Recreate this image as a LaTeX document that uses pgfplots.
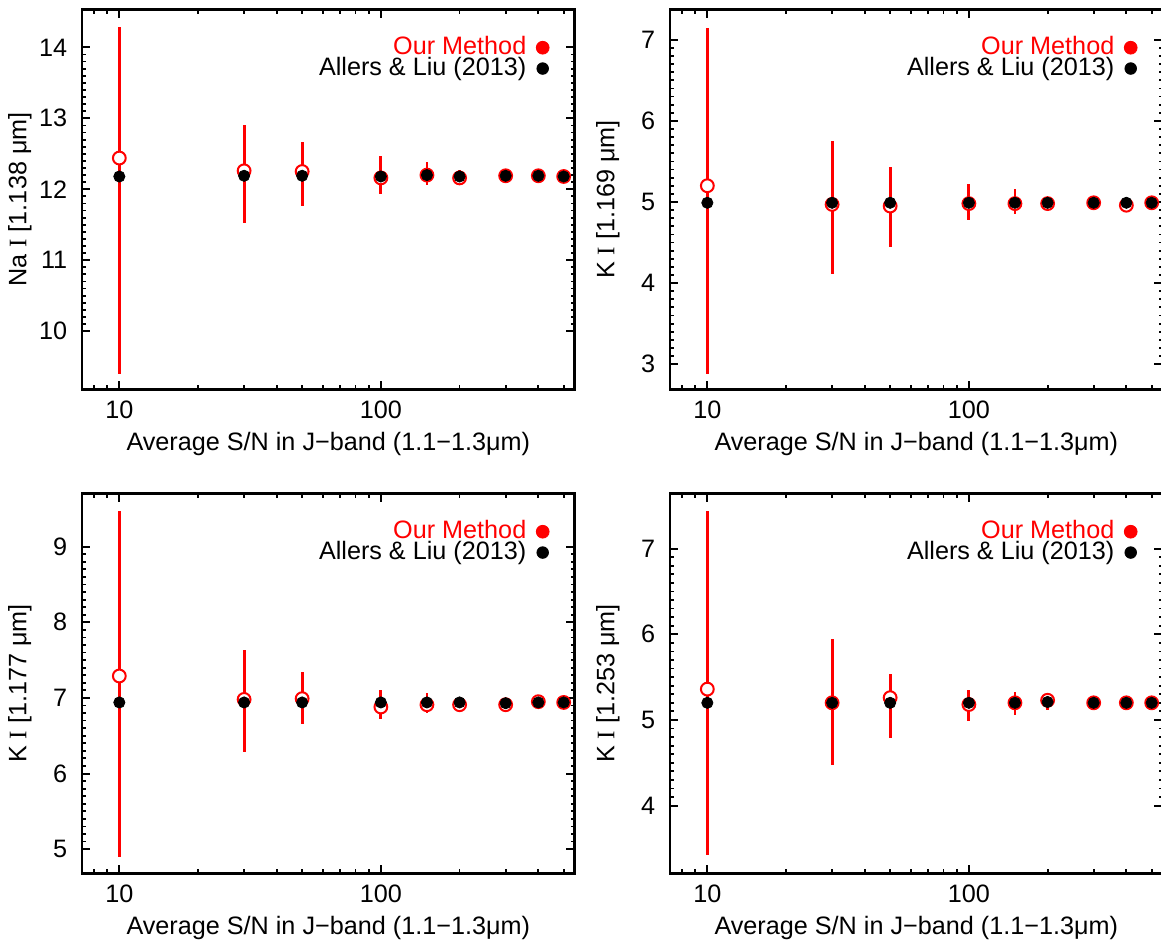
\documentclass[border=0pt]{standalone}
\usepackage{pgfplots}
\pgfplotsset{compat=1.18}
\usepackage{fontspec}
\setmainfont{Liberation Sans}
\newfontfamily\serifI{Liberation Serif}
\newcommand{\fs}{\fontsize{12.6}{15}\selectfont}

\pgfplotstableread{
x y ep em
10 12.44 1.85 3.05
30 12.26 0.64 0.73
50 12.25 0.41 0.49
100 12.16 0.31 0.23
150 12.20 0.18 0.14
200 12.16 0.11 0.10
300 12.19 0.04 0.04
400 12.19 0.03 0.03
500 12.18 0.03 0.03
}\oursA
\pgfplotstableread{
x y
10 12.18
30 12.19
50 12.19
100 12.18
150 12.20
200 12.18
300 12.19
400 12.19
500 12.18
}\alA
\pgfplotstableread{
x y ep em
10 5.20 1.94 2.32
30 4.97 0.78 0.86
50 4.95 0.48 0.50
100 4.98 0.24 0.20
150 4.98 0.18 0.13
200 4.98 0.07 0.06
300 4.99 0.03 0.03
400 4.96 0.03 0.03
500 4.99 0.03 0.03
}\oursB
\pgfplotstableread{
x y
10 4.99
30 4.99
50 4.99
100 4.99
150 4.99
200 4.99
300 4.99
400 4.99
500 4.99
}\alB
\pgfplotstableread{
x y ep em
10 7.29 2.18 2.39
30 6.98 0.65 0.69
50 6.99 0.35 0.34
100 6.88 0.22 0.16
150 6.91 0.16 0.11
200 6.91 0.05 0.05
300 6.91 0.03 0.03
400 6.95 0.02 0.02
500 6.94 0.02 0.02
}\oursC
\pgfplotstableread{
x y
10 6.94
30 6.94
50 6.94
100 6.94
150 6.94
200 6.94
300 6.93
400 6.94
500 6.94
}\alC
\pgfplotstableread{
x y ep em
10 5.36 2.08 1.94
30 5.20 0.74 0.72
50 5.26 0.28 0.47
100 5.18 0.17 0.19
150 5.20 0.13 0.14
200 5.23 0.04 0.11
300 5.20 0.03 0.03
400 5.20 0.03 0.03
500 5.20 0.03 0.03
}\oursD
\pgfplotstableread{
x y
10 5.20
30 5.20
50 5.20
100 5.20
150 5.20
200 5.21
300 5.20
400 5.20
500 5.20
}\alD

\begin{document}
\fs
\begin{tikzpicture}
\path[use as bounding box] (0,0) rectangle (580.5pt,471.5pt);

\begin{axis}[at={(41pt,276.85pt)}, anchor=south west,
    scale only axis, width=246.25pt, height=189.75pt,
    xmode=log, xmin=7.2, xmax=550,
    xtick={10,100}, xticklabels={10,100},
    minor xtick={8,9,20,30,40,50,60,70,80,90,200,300,400,500},
    minor y tick num=9, tick align=inside,
    major tick length=4.2pt, minor tick length=2pt,
    major tick style={black, line width=1pt},
    minor tick style={black, line width=0.9pt},
    axis line style={line width=1.4pt},
    /pgf/number format/assume math mode=true,
    tick label style={font=\fs}, label style={font=\fs},
    xlabel={Average S/N in J−band (1.1−1.3μm)},
    xlabel style={at={(axis description cs:0.5,-0.145)}, anchor=center},
    ylabel style={at={(axis description cs:-0.126,0.5)}, anchor=center},
    xticklabel style={yshift=-1.5pt}, yticklabel style={xshift=-3pt},
    legend style={draw=none, fill=none, at={(axis description cs:1,1)},
      anchor=north east, xshift=-12.5pt, yshift=-11.25pt, font=\fs,
      inner sep=0pt, row sep=-4.6pt, column sep=3pt},
    legend cell align=right, legend plot pos=right,
  ymin=9.18, ymax=14.53, ytick={10,11,12,13,14},
  ylabel={Na {\serifI I} [1.138 μm]}]
\addlegendimage{only marks, mark=*, mark size=3.2pt, red, mark options={fill=red}}
\addlegendentry{\textcolor{red}{Our Method}\hspace{2.5pt}}
\addlegendimage{only marks, mark=*, mark size=2.9pt, black, mark options={fill=black}}
\addlegendentry{Allers \& Liu (2013)\hspace{2.5pt}}
\addplot[forget plot, only marks, mark=*, mark size=3.2pt,
    mark options={draw=red, fill=white, line width=1pt},
    error bars/y dir=both, error bars/y explicit, error bars/error mark=none,
    error bars/error bar style={red, line width=1.4pt}]
  table[x=x, y=y, y error plus=ep, y error minus=em] {\oursA};
\addplot[forget plot, only marks, mark=*, mark size=2.8pt, black, mark options={fill=black}]
  table[x=x, y=y] {\alA};
\end{axis}

\begin{axis}[at={(335pt,276.85pt)}, anchor=south west,
    scale only axis, width=246.25pt, height=189.75pt,
    xmode=log, xmin=7.2, xmax=550,
    xtick={10,100}, xticklabels={10,100},
    minor xtick={8,9,20,30,40,50,60,70,80,90,200,300,400,500},
    minor y tick num=9, tick align=inside,
    major tick length=4.2pt, minor tick length=2pt,
    major tick style={black, line width=1pt},
    minor tick style={black, line width=0.9pt},
    axis line style={line width=1.4pt},
    /pgf/number format/assume math mode=true,
    tick label style={font=\fs}, label style={font=\fs},
    xlabel={Average S/N in J−band (1.1−1.3μm)},
    xlabel style={at={(axis description cs:0.5,-0.145)}, anchor=center},
    ylabel style={at={(axis description cs:-0.126,0.5)}, anchor=center},
    xticklabel style={yshift=-1.5pt}, yticklabel style={xshift=-3pt},
    legend style={draw=none, fill=none, at={(axis description cs:1,1)},
      anchor=north east, xshift=-12.5pt, yshift=-11.25pt, font=\fs,
      inner sep=0pt, row sep=-4.6pt, column sep=3pt},
    legend cell align=right, legend plot pos=right,
  ymin=2.69, ymax=7.37, ytick={3,4,5,6,7},
  ylabel={K {\serifI I} [1.169 μm]}]
\addlegendimage{only marks, mark=*, mark size=3.2pt, red, mark options={fill=red}}
\addlegendentry{\textcolor{red}{Our Method}\hspace{2.5pt}}
\addlegendimage{only marks, mark=*, mark size=2.9pt, black, mark options={fill=black}}
\addlegendentry{Allers \& Liu (2013)\hspace{2.5pt}}
\addplot[forget plot, only marks, mark=*, mark size=3.2pt,
    mark options={draw=red, fill=white, line width=1pt},
    error bars/y dir=both, error bars/y explicit, error bars/error mark=none,
    error bars/error bar style={red, line width=1.4pt}]
  table[x=x, y=y, y error plus=ep, y error minus=em] {\oursB};
\addplot[forget plot, only marks, mark=*, mark size=2.8pt, black, mark options={fill=black}]
  table[x=x, y=y] {\alB};
\end{axis}

\begin{axis}[at={(41pt,34.85pt)}, anchor=south west,
    scale only axis, width=246.25pt, height=189.75pt,
    xmode=log, xmin=7.2, xmax=550,
    xtick={10,100}, xticklabels={10,100},
    minor xtick={8,9,20,30,40,50,60,70,80,90,200,300,400,500},
    minor y tick num=9, tick align=inside,
    major tick length=4.2pt, minor tick length=2pt,
    major tick style={black, line width=1pt},
    minor tick style={black, line width=0.9pt},
    axis line style={line width=1.4pt},
    /pgf/number format/assume math mode=true,
    tick label style={font=\fs}, label style={font=\fs},
    xlabel={Average S/N in J−band (1.1−1.3μm)},
    xlabel style={at={(axis description cs:0.5,-0.145)}, anchor=center},
    ylabel style={at={(axis description cs:-0.126,0.5)}, anchor=center},
    xticklabel style={yshift=-1.5pt}, yticklabel style={xshift=-3pt},
    legend style={draw=none, fill=none, at={(axis description cs:1,1)},
      anchor=north east, xshift=-12.5pt, yshift=-11.25pt, font=\fs,
      inner sep=0pt, row sep=-4.6pt, column sep=3pt},
    legend cell align=right, legend plot pos=right,
  ymin=4.68, ymax=9.70, ytick={5,6,7,8,9},
  ylabel={K {\serifI I} [1.177 μm]}]
\addlegendimage{only marks, mark=*, mark size=3.2pt, red, mark options={fill=red}}
\addlegendentry{\textcolor{red}{Our Method}\hspace{2.5pt}}
\addlegendimage{only marks, mark=*, mark size=2.9pt, black, mark options={fill=black}}
\addlegendentry{Allers \& Liu (2013)\hspace{2.5pt}}
\addplot[forget plot, only marks, mark=*, mark size=3.2pt,
    mark options={draw=red, fill=white, line width=1pt},
    error bars/y dir=both, error bars/y explicit, error bars/error mark=none,
    error bars/error bar style={red, line width=1.4pt}]
  table[x=x, y=y, y error plus=ep, y error minus=em] {\oursC};
\addplot[forget plot, only marks, mark=*, mark size=2.8pt, black, mark options={fill=black}]
  table[x=x, y=y] {\alC};
\end{axis}

\begin{axis}[at={(335pt,34.85pt)}, anchor=south west,
    scale only axis, width=246.25pt, height=189.75pt,
    xmode=log, xmin=7.2, xmax=550,
    xtick={10,100}, xticklabels={10,100},
    minor xtick={8,9,20,30,40,50,60,70,80,90,200,300,400,500},
    minor y tick num=9, tick align=inside,
    major tick length=4.2pt, minor tick length=2pt,
    major tick style={black, line width=1pt},
    minor tick style={black, line width=0.9pt},
    axis line style={line width=1.4pt},
    /pgf/number format/assume math mode=true,
    tick label style={font=\fs}, label style={font=\fs},
    xlabel={Average S/N in J−band (1.1−1.3μm)},
    xlabel style={at={(axis description cs:0.5,-0.145)}, anchor=center},
    ylabel style={at={(axis description cs:-0.126,0.5)}, anchor=center},
    xticklabel style={yshift=-1.5pt}, yticklabel style={xshift=-3pt},
    legend style={draw=none, fill=none, at={(axis description cs:1,1)},
      anchor=north east, xshift=-12.5pt, yshift=-11.25pt, font=\fs,
      inner sep=0pt, row sep=-4.6pt, column sep=3pt},
    legend cell align=right, legend plot pos=right,
  ymin=3.21, ymax=7.64, ytick={4,5,6,7},
  ylabel={K {\serifI I} [1.253 μm]}]
\addlegendimage{only marks, mark=*, mark size=3.2pt, red, mark options={fill=red}}
\addlegendentry{\textcolor{red}{Our Method}\hspace{2.5pt}}
\addlegendimage{only marks, mark=*, mark size=2.9pt, black, mark options={fill=black}}
\addlegendentry{Allers \& Liu (2013)\hspace{2.5pt}}
\addplot[forget plot, only marks, mark=*, mark size=3.2pt,
    mark options={draw=red, fill=white, line width=1pt},
    error bars/y dir=both, error bars/y explicit, error bars/error mark=none,
    error bars/error bar style={red, line width=1.4pt}]
  table[x=x, y=y, y error plus=ep, y error minus=em] {\oursD};
\addplot[forget plot, only marks, mark=*, mark size=2.8pt, black, mark options={fill=black}]
  table[x=x, y=y] {\alD};
\end{axis}
\end{tikzpicture}
\end{document}
